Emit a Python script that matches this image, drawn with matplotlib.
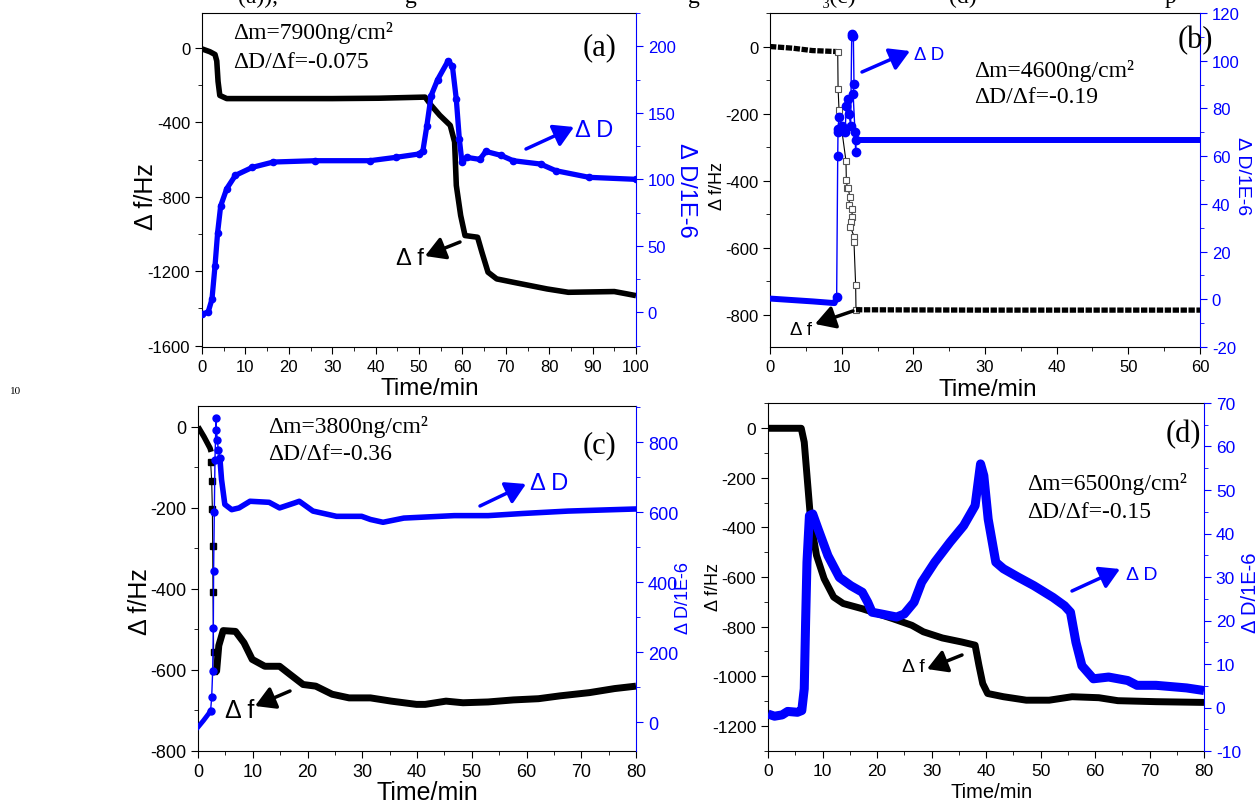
import numpy as np
import matplotlib.pyplot as plt
from matplotlib.ticker import MultipleLocator

plt.rcParams['font.family'] = ['Liberation Sans', 'DejaVu Sans']
plt.rcParams['axes.unicode_minus'] = False

BLUE = '#0000ff'
SERIF = ['Liberation Serif', 'DejaVu Serif']
W, H = 1259, 803

# ---- panel (a) ----
a_t_f = [0, 1.8, 3.0, 3.4, 3.7, 4.1, 5.7, 11.6, 21, 30, 40.7, 51.4, 52.8, 54.8, 57.2, 58.2,
         58.6, 59.6, 60.6, 63.5, 64.5, 65.9, 67.9, 71.7, 79.5, 84.4, 95, 98, 100]
a_f = [-5, -20, -35, -70, -180, -255, -272, -272, -272, -272, -270, -264, -308, -362, -416, -505,
       -739, -900, -1008, -1017, -1098, -1205, -1241, -1259, -1295, -1313, -1309, -1322, -1331]
a_t_D = [0, 1.4, 2.3, 3.0, 3.6, 4.3, 5.7, 7.7, 11.6, 16.4, 26, 38.7, 44.6, 49.9, 50.9, 51.8,
         52.8, 54.3, 56.7, 57.7, 58.6, 59.3, 59.9, 61, 64, 65.4, 68.9, 71.7, 78, 81.5, 89.2, 100]
a_D = [-1, 0, 10, 35, 60, 80, 93, 103, 109, 113, 114, 114, 116.5, 119, 121.5, 140,
       163, 175, 189, 185, 160, 130, 113, 116.5, 115, 121, 118, 114, 111.5, 106.5, 101.5, 100]

# ---- panel (b) ----
b_t_f1 = [0, 3.2, 5.9, 9.3]
b_f1 = [0, -5, -12, -15]
b_t_f2 = [9.45, 9.5, 9.63, 10.6, 10.65, 10.79, 10.93, 11.12, 11.0, 11.4, 11.49, 11.3, 11.21,
          11.77, 11.72, 11.95, 12.0]
b_f2 = [-15, -126, -188, -341, -397, -423, -423, -448, -472, -484, -508, -522, -538,
        -568, -584, -711, -785]
b_t_f3 = [12.0, 30, 60]
b_f3 = [-785, -786, -786]
b_t_D1 = [0, 3, 6, 9.0, 9.3]
b_D1 = [0.3, -0.3, -0.9, -1.6, 0.8]
b_t_D2 = [9.3, 9.45, 9.49, 9.63, 9.5, 10.1, 10.47, 10.65, 10.93, 11.02, 11.26, 11.4, 11.5,
          11.63, 11.72, 11.6, 11.86, 11.95, 12.0]
b_D2 = [0.8, 60.2, 70, 76.3, 71.4, 72.8, 70, 81, 84, 77.7, 72.8, 110.5, 111,
        110.2, 90.2, 86, 70, 61.6, 66.9]
b_t_D3 = [12.0, 30, 60]
b_D3 = [66.9, 66.9, 66.9]

# ---- panel (c) ----
c_t_f1 = [0, 1.1, 2.2, 2.4]
c_f1 = [0, -25, -53, -62]
c_t_f2 = [2.3, 2.5, 2.62, 2.68, 2.74, 2.86, 3.0]
c_f2 = [-86, -133, -202, -295, -407, -557, -603]
c_t_f3 = [3.0, 3.4, 3.8, 4.6, 6.85, 8.4, 9.9, 12.2, 14.9, 16.8, 19.2, 21.5, 24.5, 27.6, 31.5,
          35.3, 39.9, 41.5, 45.3, 48.4, 53, 57.6, 62.2, 66.1, 71.5, 76.1, 80]
c_f3 = [-603, -603, -540, -503, -505, -533, -574, -591, -591, -611, -636, -640, -660, -669, -669,
        -677, -685, -685, -677, -681, -679, -674, -671, -664, -656, -646, -640]
c_t_D1 = [0, 1.0, 1.9, 2.3]
c_D1 = [-14, 5, 23.6, 33]
c_t_D2 = [2.3, 2.5, 2.68, 2.8, 2.85, 2.98, 3.1, 3.3, 3.35, 3.53, 3.7, 4.0]
c_D2 = [33, 71, 147, 270, 432, 600, 750, 868, 835, 807, 778, 754]
c_t_D3 = [4.0, 4.3, 4.9, 6.15, 7.5, 9.5, 13, 14.9, 17.6, 18.5, 21, 25.3, 29.9, 31.5, 33.8,
          37.6, 46.8, 53, 59.2, 67.6, 80]
c_D3 = [754, 693, 622, 607, 612, 631, 628, 612, 626, 631, 603, 588, 588, 579, 571,
        583, 590, 590, 596, 603, 609]

# ---- panel (d) ----
d_t_f = [0, 6.1, 6.65, 7.15, 7.85, 8.9, 10.3, 12.05, 13.8, 17.3, 20.1, 22.9, 26.4, 28.5, 32,
         35.5, 38, 38.7, 39.4, 40.3, 43.2, 47.4, 51.6, 55.8, 60.7, 64.2, 71.2, 80]
d_f = [0, 0, -56, -190, -378, -513, -607, -681, -707, -728, -748, -768, -795, -821, -846,
       -862, -875, -956, -1030, -1070, -1083, -1097, -1097, -1083, -1087, -1099, -1103, -1106]
d_t_D = [0, 1.2, 2.6, 3.6, 5.4, 6.2, 6.65, 6.9, 7.15, 7.6, 8.2, 9.2, 11, 13.1, 15.2, 17.3,
         18.3, 19.1, 20.8, 23.6, 25, 26.8, 28.2, 30.6, 33.4, 35.9, 38, 39, 39.6, 40.4, 41.8,
         43.2, 46, 48.8, 52.3, 54.4, 55.5, 56.5, 57.6, 59.7, 62.5, 66, 67.7, 71.2, 76.8, 80]
d_D = [-1.5, -2, -1.7, -0.9, -1.1, -0.7, 4.3, 19.6, 33.4, 44.1, 44.5, 41, 34.9, 29.9, 28, 26.5,
       24.2, 21.9, 21.5, 20.8, 21.5, 24.2, 28.8, 33.4, 38, 41.8, 46.4, 56, 53.3, 43.3, 33.4,
       31.9, 29.9, 28, 25.3, 23.4, 21.9, 15, 9.6, 6.6, 7.0, 6.2, 5.1, 5.1, 4.5, 3.9]


def fx(x):
    return x / W


def fy(y):
    return 1 - y / H


def make_axes(box, xmax, ylim_l, ylim_r, xmaj, lmaj, lmin, rmaj, rmin, fs):
    x0, y0, x1, y1 = box
    ax = fig.add_axes([fx(x0), fy(y1), (x1 - x0) / W, (y1 - y0) / H])
    ax2 = ax.twinx()
    ax.set_xlim(0, xmax)
    ax.set_ylim(*ylim_l)
    ax2.set_ylim(*ylim_r)
    ax.xaxis.set_major_locator(MultipleLocator(xmaj))
    ax.xaxis.set_minor_locator(MultipleLocator(xmaj / 2))
    ax.yaxis.set_major_locator(MultipleLocator(lmaj))
    ax.yaxis.set_minor_locator(MultipleLocator(lmin))
    ax2.yaxis.set_major_locator(MultipleLocator(rmaj))
    ax2.yaxis.set_minor_locator(MultipleLocator(rmin))
    ax.spines['right'].set_visible(False)
    for s in ['left', 'top', 'bottom']:
        ax2.spines[s].set_visible(False)
    ax2.spines['right'].set_color(BLUE)
    ax.tick_params(which='both', direction='out', labelsize=fs, top=False, right=False)
    ax.tick_params(which='major', length=5)
    ax.tick_params(which='minor', length=3)
    ax2.tick_params(which='both', direction='out', colors=BLUE, labelsize=fs)
    ax2.tick_params(which='major', length=5)
    ax2.tick_params(which='minor', length=3)
    return ax, ax2


def label(x, y, s, fs, color='black', rot=0, family=None, ha='center', va='center'):
    kw = {}
    if family:
        kw['family'] = family
    fig.text(fx(x), fy(y), s, fontsize=fs, color=color, rotation=rot, ha=ha, va=va, **kw)


def arrow(tail, head, color, lw=2.5):
    fig.add_artist(plt.matplotlib.patches.FancyArrowPatch(
        (fx(tail[0]), fy(tail[1])), (fx(head[0]), fy(head[1])),
        transform=fig.transFigure, arrowstyle='-|>,head_length=0.6,head_width=0.35',
        mutation_scale=20, color=color, lw=lw, shrinkA=0, shrinkB=0))


fig = plt.figure(figsize=(W / 100, H / 100), dpi=100)

# (a)
ax, ax2 = make_axes((202, 14, 636, 348), 100, (-1607, 188), (-26, 225), 10, 400, 200, 50, 25, 12)
ax.plot(a_t_f, a_f, color='black', lw=4, solid_capstyle='butt')
ax2.plot(a_t_D, a_D, color=BLUE, lw=3.8, marker='o', ms=4.5)
label(146, 197, 'Δ f/Hz', 18, rot=90)
label(686, 190, 'Δ D/1E-6', 17, color=BLUE, rot=270)
label(430, 395, 'Time/min', 17.5, va='baseline')
label(233, 39, 'Δm=7900ng/cm²', 17, family=SERIF, ha='left', va='baseline')
label(233, 68, 'ΔD/Δf=-0.075', 17, family=SERIF, ha='left', va='baseline')
label(583, 48, '(a)', 22, family=SERIF, ha='left')
label(575, 137, 'Δ D', 17, color=BLUE, ha='left', va='baseline')
label(396, 265, 'Δ f', 17, ha='left', va='baseline')
arrow((526, 150), (574, 128), BLUE)
arrow((460, 243), (425, 257), 'black')

# (b)
ax, ax2 = make_axes((770, 14, 1200, 348), 60, (-896, 100), (-20, 120), 10, 200, 100, 20, 10, 12)
ax.plot(b_t_f1, b_f1, color='black', lw=3.8, dashes=(1.2, 0.3), solid_capstyle='butt')
ax.plot(b_t_f2, b_f2, color='black', lw=0.8, marker='s', ms=5, mfc='white', mec='#555555', mew=0.8)
ax.plot(b_t_f3, b_f3, color='black', lw=3.8, dashes=(1.2, 0.3), solid_capstyle='butt')
ax2.plot(b_t_D1, b_D1, color=BLUE, lw=4.3)
ax2.plot(b_t_D2, b_D2, color=BLUE, lw=1, marker='o', ms=6)
ax2.plot(b_t_D3, b_D3, color=BLUE, lw=4.3)
label(717, 186, 'Δ f/Hz', 13, rot=90)
label(1243, 176, 'Δ D/1E-6', 14, color=BLUE, rot=270)
label(988, 396, 'Time/min', 17.5, va='baseline')
label(974, 77, 'Δm=4600ng/cm²', 17, family=SERIF, ha='left', va='baseline')
label(974, 103, 'ΔD/Δf=-0.19', 17, family=SERIF, ha='left', va='baseline')
label(1178, 41, '(b)', 22, family=SERIF, ha='left')
label(914, 60, 'Δ D', 13.5, color=BLUE, ha='left', va='baseline')
label(790, 335, 'Δ f', 13.5, ha='left', va='baseline')
arrow((862, 73), (910, 52), BLUE)
arrow((853, 312), (815, 325), 'black')

# (c)
ax, ax2 = make_axes((198, 407, 636, 752), 80, (-800, 51), (-82, 903), 10, 200, 100, 200, 100, 13)
ax.plot(c_t_f1, c_f1, color='black', lw=4, solid_capstyle='butt')
ax.plot(c_t_f2, c_f2, color='black', lw=0.8, marker='s', ms=4)
ax.plot(c_t_f3, c_f3, color='black', lw=5, solid_capstyle='butt')
ax2.plot(c_t_D1, c_D1, color=BLUE, lw=3.5)
ax2.plot(c_t_D2, c_D2, color=BLUE, lw=1, marker='o', ms=5)
ax2.plot(c_t_D3, c_D3, color=BLUE, lw=4)
label(140, 602, 'Δ f/Hz', 18, rot=90)
label(683, 598, 'Δ D/1E-6', 13, color=BLUE, rot=90)
label(427, 800, 'Time/min', 18, va='baseline')
label(268, 433, 'Δm=3800ng/cm²', 17, family=SERIF, ha='left', va='baseline')
label(268, 460, 'ΔD/Δf=-0.36', 17, family=SERIF, ha='left', va='baseline')
label(583, 446, '(c)', 22, family=SERIF, ha='left')
label(530, 490, 'Δ D', 17, color=BLUE, ha='left', va='baseline')
label(225, 718, 'Δ f', 18, ha='left', va='baseline')
arrow((480, 507), (526, 485), BLUE)
arrow((290, 692), (255, 707), 'black')

# (d)
ax, ax2 = make_axes((768, 404, 1204, 752), 80, (-1302, 102), (-10, 70), 10, 200, 100, 10, 5, 12.5)
ax.plot(d_t_f, d_f, color='black', lw=5, solid_capstyle='butt')
ax2.plot(d_t_D, d_D, color=BLUE, lw=6.5, solid_capstyle='butt')
label(714, 587, 'Δ f/Hz', 13, rot=90)
label(1250, 593, 'Δ D/1E-6', 14.5, color=BLUE, rot=90)
label(992, 798, 'Time/min', 14.5, va='baseline')
label(1027, 490, 'Δm=6500ng/cm²', 17, family=SERIF, ha='left', va='baseline')
label(1027, 518, 'ΔD/Δf=-0.15', 17, family=SERIF, ha='left', va='baseline')
label(1166, 435, '(d)', 22, family=SERIF, ha='left')
label(1126, 580, 'Δ D', 14, color=BLUE, ha='left', va='baseline')
label(902, 672, 'Δ f', 14, ha='left', va='baseline')
arrow((1072, 592), (1120, 570), BLUE)
arrow((962, 656), (927, 670), 'black')

# cut-off caption line at the top and the line number
for x, s in [(238, '(a)),'), (405, 'g'), (688, 'g'), (822, '₃(c)'), (949, '(d)'), (1165, 'p')]:
    label(x, 3, s, 17, family=SERIF, ha='left', va='baseline')
label(10, 394, '10', 8, family=SERIF, ha='left', va='baseline')

fig.savefig('out.png', dpi=100)
